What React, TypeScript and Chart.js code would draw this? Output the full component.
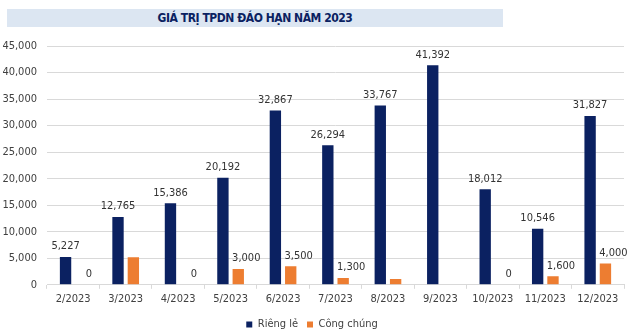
import React, { useEffect, useRef } from "react";
import { Chart, registerables } from "chart.js";

Chart.register(...registerables);

const categories = ["2/2023", "3/2023", "4/2023", "5/2023", "6/2023", "7/2023", "8/2023", "9/2023", "10/2023", "11/2023", "12/2023"];
const riengLe = [5227, 12765, 15386, 20192, 32867, 26294, 33767, 41392, 18012, 10546, 31827];
const congChung = [0, 5200, 0, 3000, 3500, 1300, 1100, null, 0, 1600, 4000];
const riengLeLabels = ["5,227", "12,765", "15,386", "20,192", "32,867", "26,294", "33,767", "41,392", "18,012", "10,546", "31,827"];
const congChungLabels = ["0", "", "0", "3,000", "3,500", "1,300", "", "", "0", "1,600", "4,000"];
const yTicks = [0, 5000, 10000, 15000, 20000, 25000, 30000, 35000, 40000, 45000];

const NAVY = "#0b2161";
const ORANGE = "#ed7d31";
const FONT = "'DejaVu Sans Condensed', 'DejaVu Sans', sans-serif";

const labelPlugin = {
  id: "barLabels",
  afterDatasetsDraw(chart: any) {
    const ctx = chart.ctx;
    ctx.save();
    ctx.font = `11px ${FONT}`;
    ctx.fillStyle = "#333333";
    ctx.textAlign = "center";
    ctx.textBaseline = "bottom";
    const sets = [riengLeLabels, congChungLabels];
    const offs = [0, 8];
    sets.forEach((labels, di) => {
      const meta = chart.getDatasetMeta(di);
      meta.data.forEach((el: any, i: number) => {
        const t = labels[i];
        if (!t) return;
        ctx.fillText(t, el.x + offs[di], el.y - 5);
      });
    });
    ctx.restore();
  },
};

export default function App() {
  const ref = useRef<HTMLCanvasElement>(null);
  useEffect(() => {
    const chart = new Chart(ref.current!, {
      type: "bar",
      data: {
        labels: categories,
        datasets: [
          { label: "Riêng lẻ", data: riengLe, backgroundColor: NAVY, categoryPercentage: 0.585, barPercentage: 0.74 },
          { label: "Công chúng", data: congChung as any, backgroundColor: ORANGE, categoryPercentage: 0.585, barPercentage: 0.74 },
        ],
      },
      options: {
        animation: false,
        responsive: false,
        maintainAspectRatio: false,
        layout: { padding: { top: 46, left: 0, right: 13, bottom: -5 } },
        plugins: {
          tooltip: { enabled: false },
          legend: {
            position: "bottom",
            labels: {
              font: { family: FONT, size: 11 },
              color: "#404040",
              usePointStyle: true,
              pointStyle: "rect",
              boxWidth: 6,
              boxHeight: 6,
              padding: 9,
            },
          },
        },
        scales: {
          x: {
            offset: true,
            grid: { display: true, drawOnChartArea: false, drawTicks: true, tickLength: 4, offset: true, color: "#d9d9d9" },
            border: { display: true, color: "#d9d9d9" },
            ticks: { font: { family: FONT, size: 11 }, color: "#404040", padding: 4, maxRotation: 0, autoSkip: false },
          },
          y: {
            min: 0,
            max: 45000,
            afterBuildTicks(axis: any) {
              axis.ticks = yTicks.map((v) => ({ value: v }));
            },
            afterFit(axis: any) {
              axis.width = 47;
            },
            grid: { color: "#d9d9d9", drawTicks: false },
            border: { display: false },
            ticks: {
              font: { family: FONT, size: 11 },
              color: "#404040",
              padding: 10,
              callback: (v: any) => Number(v).toLocaleString("en-US"),
            },
          },
        },
      },
      plugins: [labelPlugin],
    });
    return () => chart.destroy();
  }, []);
  return (
    <div style={{ position: "fixed", left: 0, top: 0, width: 637, height: 335, background: "#fff" }}>
      <div
        style={{
          position: "absolute",
          left: 7,
          top: 9,
          width: 496,
          height: 18,
          background: "#dce6f2",
          color: "#0b2161",
          font: `bold 12px ${FONT}`,
          letterSpacing: "-0.45px",
          textAlign: "center",
          lineHeight: "18px",
        }}
      >
        GIÁ TRỊ TPDN ĐÁO HẠN NĂM 2023
      </div>
      <canvas ref={ref} width={637} height={335} style={{ display: "block" }} />
    </div>
  );
}
